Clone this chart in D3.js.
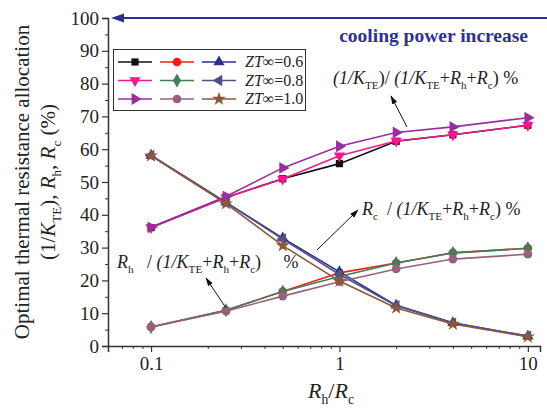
<!DOCTYPE html>
<html>
<head>
<meta charset="utf-8">
<script src="https://cdn.jsdelivr.net/npm/d3@7"></script>
<style>
  body { margin: 0; background: #fff; }
  svg text { font-family: "Liberation Serif", "Times New Roman", Times, serif !important; }
</style>
</head>
<body>
<svg id="chart" width="547" height="410" font-family="Liberation Serif, Times New Roman, serif"></svg>
<script>
// x values (Rh/Rc)
var ratio = [0.1, 0.25, 0.5, 1, 2, 4, 10];

// ZT = 0.6
var kte06 = [36.1, 45.3, 51.0, 55.6, 62.4, 64.4, 67.3];
var rh06  = [5.8, 10.9, 16.6, 22.3, 25.3, 28.4, 29.8];
var rc06  = [58.1, 43.8, 32.9, 22.6, 12.4, 7.1, 3.0];
// ZT = 0.8
var kte08 = [36.1, 45.3, 50.9, 58.0, 62.5, 64.4, 67.3];
var rh08  = [5.8, 10.9, 16.6, 21.2, 25.3, 28.4, 29.8];
var rc08  = [58.1, 43.8, 32.6, 21.8, 12.3, 7.0, 3.0];
// ZT = 1.0
var kte10 = [36.2, 45.6, 54.3, 60.9, 65.1, 66.8, 69.6];
var rh10  = [5.8, 10.6, 15.2, 19.6, 23.5, 26.5, 28.0];
var rc10  = [58.0, 43.4, 30.6, 19.8, 11.6, 6.7, 2.8];

var legendLabels = ["0.6", "0.8", "1.0"];
var xTickValues = [0.1, 1, 10];
var yTickValues = [0, 10, 20, 30, 40, 50, 60, 70, 80, 90, 100];

var serif = "Liberation Serif, Times New Roman, serif";
var svg = d3.select("#chart"),
    x = d3.scaleLog().domain([0.0591, 11.6]).range([108, 540]),
    y = d3.scaleLinear().domain([0, 100]).range([346, 18]);

// marker shapes: [symbol, rotation]
var series = [
  {vals: kte06, color: "#111111", sym: d3.symbolSquare, rot: 0, size: 52},
  {vals: rh06,  color: "#ff1a1a", sym: d3.symbolCircle, rot: 0, size: 60},
  {vals: rc06,  color: "#2e2e8f", sym: d3.symbolTriangle, rot: 0, size: 55},
  {vals: kte08, color: "#f0188c", sym: d3.symbolTriangle, rot: 180, size: 55},
  {vals: rh08,  color: "#3f7f5a", sym: d3.symbolDiamond, rot: 0, size: 55},
  {vals: rc08,  color: "#505085", sym: d3.symbolTriangle, rot: -90, size: 55},
  {vals: kte10, color: "#992e9e", sym: d3.symbolTriangle, rot: 90, size: 60},
  {vals: rh10,  color: "#97607c", sym: d3.symbolCircle, rot: 0, size: 60},
  {vals: rc10,  color: "#8c573a", sym: d3.symbolStar, rot: 0, size: 60}
];

// write text made of parts: {t, i: italic, s: subscript}
function richText(sel, parts, size) {
  sel.attr("font-family", serif);
  parts.forEach(function(p) {
    var ts = sel.append("tspan").text(p.t);
    if (p.i) ts.attr("font-style", "italic");
    if (p.s) ts.attr("font-size", size * 0.62).attr("baseline-shift", "-45%");
  });
  return sel;
}

// axes
var yAxis = d3.axisLeft(y).tickValues(yTickValues).tickSize(6).tickPadding(3);
var gy = svg.append("g").attr("transform", "translate(108,0)").call(yAxis).attr("font-family", serif);
gy.selectAll("text").attr("font-size", 19).attr("fill", "#222");
gy.select(".domain").attr("stroke", "#333").attr("stroke-width", 1.5);
gy.selectAll(".tick line").attr("stroke", "#333").attr("stroke-width", 1.2);
svg.append("g").attr("transform", "translate(108,0)")
  .call(d3.axisLeft(y).tickValues(d3.range(5, 100, 10)).tickSize(3).tickFormat(""))
  .call(function(g) { g.select(".domain").remove(); })
  .selectAll("line").attr("stroke", "#333").attr("stroke-width", 1);

var minorX = [0.07, 0.08, 0.09, 0.2, 0.3, 0.4, 0.5, 0.6, 0.7, 0.8, 0.9, 2, 3, 4, 5, 6, 7, 8, 9];
var gx = svg.append("g").attr("transform", "translate(0,346)")
  .call(d3.axisBottom(x).tickValues(xTickValues).tickFormat(d3.format("")).tickSize(6).tickPadding(5))
  .attr("font-family", serif);
gx.selectAll("text").attr("font-size", 19).attr("fill", "#222");
gx.select(".domain").attr("stroke", "#333").attr("stroke-width", 1.5);
gx.selectAll(".tick line").attr("stroke", "#333").attr("stroke-width", 1.2);
svg.append("g").attr("transform", "translate(0,346)")
  .call(d3.axisBottom(x).tickValues(minorX).tickSize(3).tickFormat(""))
  .call(function(g) { g.select(".domain").remove(); })
  .selectAll("line").attr("stroke", "#333").attr("stroke-width", 1);

// axis titles
richText(svg.append("text").attr("x", 331).attr("y", 398).attr("text-anchor", "middle")
  .attr("font-size", 22).attr("fill", "#222"),
  [{t: "R", i: 1}, {t: "h", s: 1}, {t: "/"}, {t: "R", i: 1}, {t: "c", s: 1}], 22);

richText(svg.append("text").attr("transform", "translate(29,182) rotate(-90)")
  .attr("text-anchor", "middle").attr("font-size", 21).attr("fill", "#222"),
  [{t: "Optimal thermal resistance allocation"}], 21);
richText(svg.append("text").attr("transform", "translate(55,182) rotate(-90)")
  .attr("text-anchor", "middle").attr("font-size", 21).attr("fill", "#222"),
  [{t: "(1/"}, {t: "K", i: 1}, {t: "TE", s: 1}, {t: "), "}, {t: "R", i: 1}, {t: "h", s: 1},
   {t: ", "}, {t: "R", i: 1}, {t: "c", s: 1}, {t: "  (%)"}], 21);

// top arrow: cooling power increase
var defs = svg.append("defs");
defs.append("marker").attr("id", "blackHead").attr("viewBox", "0 0 10 10")
  .attr("refX", 9).attr("refY", 5).attr("markerWidth", 9).attr("markerHeight", 7)
  .attr("orient", "auto").attr("markerUnits", "userSpaceOnUse").attr("preserveAspectRatio", "none")
  .append("path").attr("d", "M0,1 L10,5 L0,9 Z").attr("fill", "#111");

svg.append("line").attr("x1", 547).attr("x2", 124).attr("y1", y(100)).attr("y2", y(100))
  .attr("stroke", "#2e2e8f").attr("stroke-width", 2.2);
svg.append("path").attr("d", "M111," + y(100) + " l13,-4.5 l0,9 Z").attr("fill", "#2e2e8f");
richText(svg.append("text").attr("x", 528).attr("y", 42).attr("text-anchor", "end")
  .attr("font-size", 19.5).attr("font-weight", "bold").attr("fill", "#2e3192"),
  [{t: "cooling power increase"}], 19.5);

// lines and markers
var line = d3.line().x(function(d) { return x(d[0]); }).y(function(d) { return y(d[1]); });
series.forEach(function(s) {
  var pts = ratio.map(function(r, i) { return [r, s.vals[i]]; });
  svg.append("path").datum(pts).attr("d", line)
    .attr("fill", "none").attr("stroke", s.color).attr("stroke-width", 1.6);
  svg.append("g").selectAll("path").data(pts).enter().append("path")
    .attr("d", d3.symbol().type(s.sym).size(s.size))
    .attr("transform", function(d) { return "translate(" + x(d[0]) + "," + y(d[1]) + ") rotate(" + s.rot + ")"; })
    .attr("fill", s.color);
});

// legend
var lg = svg.append("g");
lg.append("rect").attr("x", 113.5).attr("y", 49.5).attr("width", 192).attr("height", 61)
  .attr("fill", "#fff").attr("stroke", "#333").attr("stroke-width", 1);
legendLabels.forEach(function(lab, row) {
  var yy = 62 + row * 18.5;
  for (var c = 0; c < 3; c++) {
    var s = series[row * 3 + c], x0 = 118 + c * 42;
    lg.append("line").attr("x1", x0).attr("x2", x0 + 34).attr("y1", yy).attr("y2", yy)
      .attr("stroke", s.color).attr("stroke-width", 1.6);
    lg.append("path").attr("d", d3.symbol().type(s.sym).size(s.size))
      .attr("transform", "translate(" + (x0 + 17) + "," + yy + ") rotate(" + s.rot + ")")
      .attr("fill", s.color);
  }
  richText(lg.append("text").attr("x", 245).attr("y", yy + 5).attr("font-size", 16).attr("fill", "#222"),
    [{t: "ZT", i: 1}, {t: "\u221E=" + lab}], 16);
});

// annotations
function annot(tx, ty, parts) {
  richText(svg.append("text").attr("x", tx).attr("y", ty).attr("font-size", 18).attr("fill", "#222")
    .attr("xml:space", "preserve").style("white-space", "pre"), parts, 18);
}
function tail(gap) {
  return [{t: "(1/", i: 1}, {t: "K", i: 1}, {t: "TE", s: 1}, {t: "+"}, {t: "R", i: 1}, {t: "h", s: 1},
          {t: "+"}, {t: "R", i: 1}, {t: "c", s: 1}, {t: ")" + gap + "%"}];
}
annot(333, 84, [{t: "(1/", i: 1}, {t: "K", i: 1}, {t: "TE", s: 1}, {t: ")/ "}].concat(tail(" ")));
annot(362, 215, [{t: "R", i: 1}, {t: "c", s: 1}, {t: "  / "}].concat(tail(" ")));
annot(117, 268, [{t: "R", i: 1}, {t: "h", s: 1}, {t: "   / "}].concat(tail("     ")));

function arrow(x1, y1, x2, y2) {
  svg.append("line").attr("x1", x1).attr("y1", y1).attr("x2", x2).attr("y2", y2)
    .attr("stroke", "#111").attr("stroke-width", 1).attr("marker-end", "url(#blackHead)");
}
arrow(407, 127, 391, 96);
arrow(317, 250, 358, 210);
arrow(226, 308, 206, 278);
</script>
</body>
</html>
